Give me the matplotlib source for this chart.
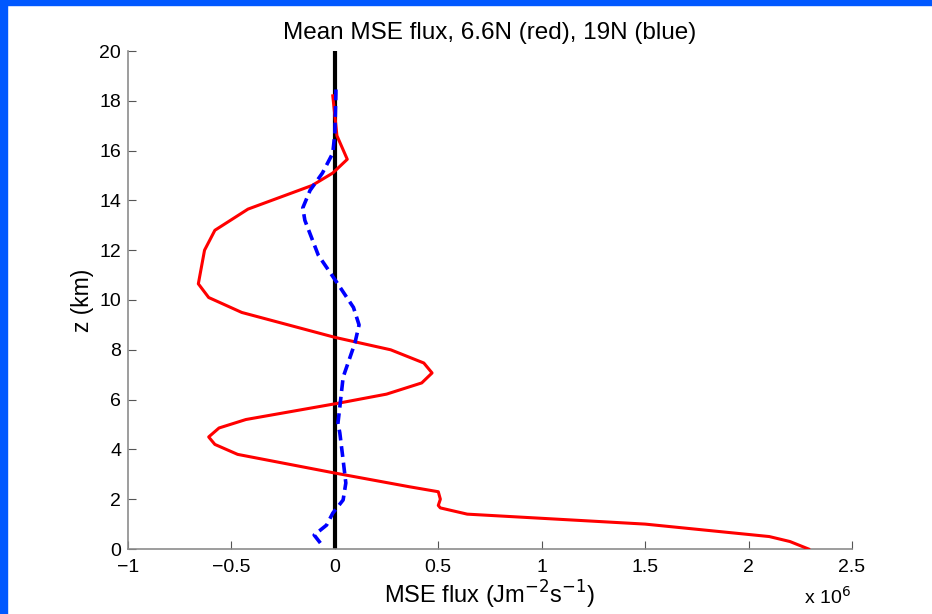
import matplotlib
matplotlib.use('Agg')
import matplotlib.pyplot as plt
from matplotlib.patches import Rectangle

plt.rcParams['font.family'] = ['Liberation Sans', 'DejaVu Sans']

# MSE flux in units of 1e6 J m^-2 s^-1, height in km
z_red = [0.0, 0.3, 0.5, 1.0, 1.4, 1.65, 1.75, 2.0, 2.3, 2.5, 3.05, 3.8, 4.2, 4.5,
         4.86, 5.2, 5.86, 6.22, 6.67, 7.07, 7.47, 8.0, 8.5, 9.5, 10.1, 10.65,
         12.0, 12.8, 13.65, 14.6, 15.1, 15.65, 16.6, 18.2]
flux_red = [2.29, 2.2, 2.1, 1.5, 0.64, 0.51, 0.5, 0.51, 0.5, 0.36, 0.0, -0.47, -0.58, -0.61,
            -0.56, -0.43, 0.02, 0.25, 0.42, 0.47, 0.43, 0.27, 0.0, -0.45, -0.61, -0.66,
            -0.63, -0.58, -0.42, -0.11, -0.01, 0.06, 0.01, -0.01]

z_blue = [0.24, 0.56, 0.96, 1.44, 1.97, 2.65, 3.57, 4.66, 5.06, 5.7, 6.9, 8.27, 9.0,
          9.7, 10.7, 11.8, 13.2, 13.7, 14.4, 15.1, 15.9, 16.7, 18.3, 18.6]
flux_blue = [-0.07, -0.1, -0.04, -0.01, 0.04, 0.053, 0.04, 0.024, 0.015, 0.024, 0.04, 0.097, 0.117,
             0.09, 0.01, -0.08, -0.145, -0.155, -0.12, -0.06, -0.01, 0.0, 0.005, 0.005]

fig = plt.figure(figsize=(9.32, 6.14), dpi=100)
fig.patches.append(Rectangle((0, 1 - 5 / 614), 1, 5 / 614, transform=fig.transFigure,
                             color='#0058ff', zorder=0))
fig.patches.append(Rectangle((0, 0), 7 / 932, 1, transform=fig.transFigure,
                             color='#0058ff', zorder=0))

ax = fig.add_axes([128 / 932, 65 / 614, 724 / 932, 498 / 614])
ax.plot([0, 0], [0, 20], color='black', linewidth=3, zorder=2)
ax.plot(flux_red, z_red, color='red', linewidth=2.2, zorder=3)
ax.plot(flux_blue, z_blue, color='blue', linewidth=2.6, linestyle=(0, (3, 1.6)), zorder=4)

ax.set_xlim(-1, 2.5)
ax.set_ylim(0, 20)
ax.set_xticks([-1, -0.5, 0, 0.5, 1, 1.5, 2, 2.5])
ax.set_xticklabels(['\u22121', '\u22120.5', '0', '0.5', '1', '1.5', '2', '2.5'])
ax.set_yticks(range(0, 21, 2))

for s in ['top', 'right']:
    ax.spines[s].set_visible(False)
for s in ['left', 'bottom']:
    ax.spines[s].set_color('#8c8c8c')
    ax.spines[s].set_linewidth(1.2)
ax.tick_params(direction='in', length=6, color='#555555', labelsize=14)
ax.tick_params(axis='x', pad=7)
ax.tick_params(axis='y', pad=5)

ax.set_title('Mean MSE flux, 6.6N (red), 19N (blue)', fontsize=17.5, pad=9)
ax.set_xlabel('MSE flux (Jm$^{-2}$s$^{-1}$)', fontsize=17, labelpad=2)
ax.set_ylabel('z (km)', fontsize=16.5, labelpad=4)
fig.text(827 / 932, 1 - 597 / 614, 'x 10$^6$', fontsize=14, ha='center', va='center')

fig.savefig('out.png', dpi=100)
